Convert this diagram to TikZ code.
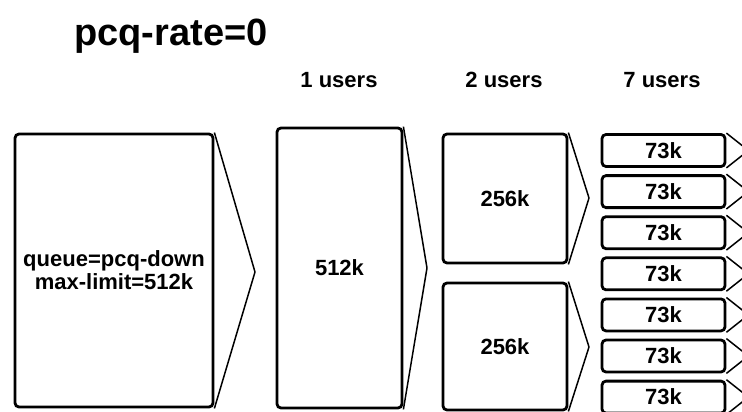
\documentclass[tikz,border=0pt]{standalone}
\usepackage{fontspec}
\setmainfont{Liberation Sans}
\usepackage{tikz}

\begin{document}
\begin{tikzpicture}[
    x=1pt, y=-1pt,
    box/.style={rectangle, draw, line width=2.8pt, rounded corners=4pt, align=center,
                inner sep=0pt, font=\fontsize{22}{23}\selectfont\bfseries},
    users/.style={font=\fontsize{22}{23}\selectfont\bfseries},
    tip/.style={line width=1.5pt, line join=round}
  ]
    \useasboundingbox (0,0) rectangle (742,412);
    \clip (0,0) rectangle (742,412);
    \node[font=\fontsize{38}{40}\selectfont\bfseries] (title) at (171,36) {pcq-rate=0};
    \node[users] (u1) at (339,80) {1 users};
    \node[users] (u2) at (504,80) {2 users};
    \node[users] (u7) at (662,80) {7 users};
    % queues
    \node[box, minimum width=198, minimum height=273] (main) at (114,270.5)
        {queue=pcq-down\\max-limit=512k};
    \node[box, minimum width=125, minimum height=280] (one) at (339.5,268) {512k};
    \node[box, minimum width=124, minimum height=129] (twoa) at (505,198.5) {256k};
    \node[box, minimum width=124, minimum height=127] (twob) at (505,346.5) {256k};
    \foreach \i in {1,...,7}
      \node[box, minimum width=123, minimum height=32] (seven\i) at (663.5,{150.5+41.1*(\i-1)}) {73k};
    % tips
    \coordinate (mainTip) at (255,272);
    \coordinate (oneTip)  at (427,268);
    \coordinate (twoaTip) at (589,198);
    \coordinate (twobTip) at (589,347);
    \draw[tip] (main.north east) -- (mainTip) -- (main.south east);
    \draw[tip] (one.north east)  -- (oneTip)  -- (one.south east);
    \draw[tip] (twoa.north east) -- (twoaTip) -- (twoa.south east);
    \draw[tip] (twob.north east) -- (twobTip) -- (twob.south east);
    \foreach \i in {1,...,7} {
      \coordinate (sevenTip\i) at ([xshift=22pt]seven\i.east);
      \draw[tip] (seven\i.north east) -- (sevenTip\i) -- (seven\i.south east);
    }
  \end{tikzpicture}
\end{document}
